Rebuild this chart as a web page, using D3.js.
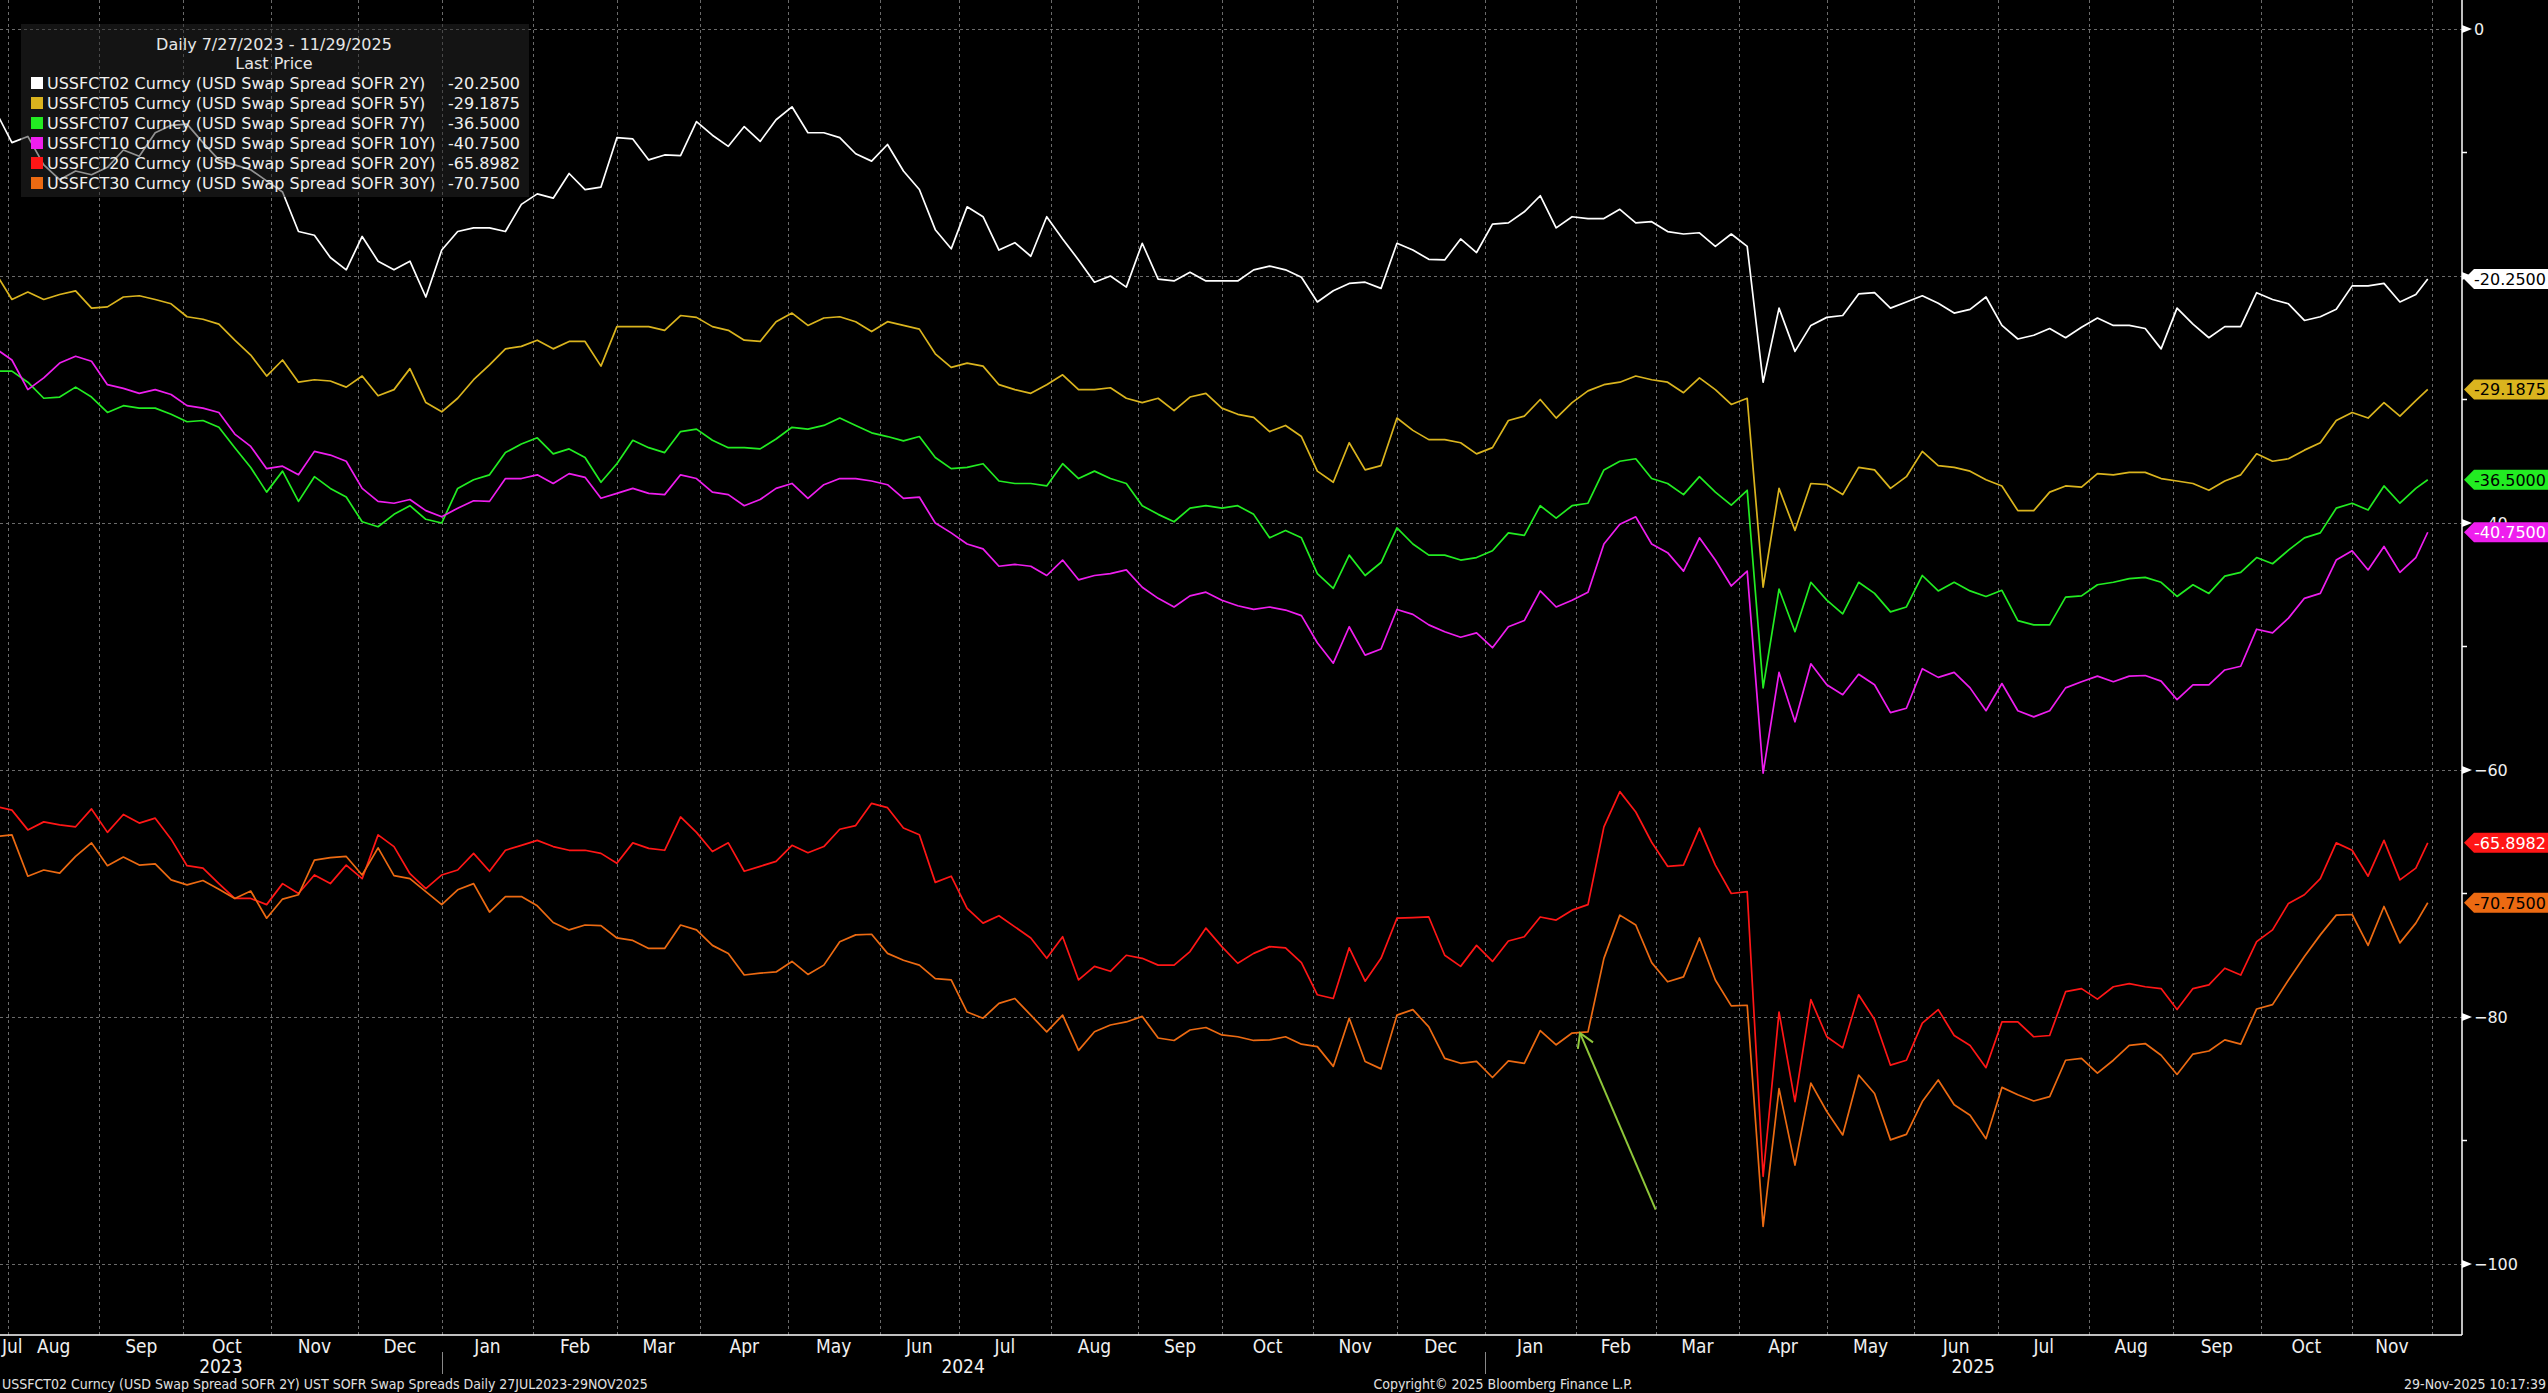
<!DOCTYPE html>
<html>
<head>
<meta charset="utf-8">
<script src="https://cdn.jsdelivr.net/npm/d3@7"></script>
<style>
html, body { margin: 0; padding: 0; background: #000; overflow: hidden; }
svg { display: block; }
</style>
</head>
<body>
<script>
// trading-day axis: 27 Jul 2023 .. 28 Nov 2025, one reading every 4th trading day + last close
const startDate = new Date(2023, 6, 27)
const endDate = new Date(2025, 10, 28)
const step = 4

const names = [
    'USSFCT02 Curncy (USD Swap Spread SOFR 2Y)',
    'USSFCT05 Curncy (USD Swap Spread SOFR 5Y)',
    'USSFCT07 Curncy (USD Swap Spread SOFR 7Y)',
    'USSFCT10 Curncy (USD Swap Spread SOFR 10Y)',
    'USSFCT20 Curncy (USD Swap Spread SOFR 20Y)',
    'USSFCT30 Curncy (USD Swap Spread SOFR 30Y)'
]
const lastPrice = [-20.25, -29.1875, -36.5, -40.75, -65.8982, -70.75]

const s02 = [-6.7,-9.2,-8.7,-11.0,-12.2,-11.5,-11.8,-11.2,-9.8,-10.3,-8.4,-7.8,-7.7,-9.2,-10.6,-11.0,-11.4,-12.3,-13.2,-16.4,
    -16.7,-18.5,-19.5,-16.8,-18.8,-19.5,-18.8,-21.7,-17.9,-16.4,-16.1,-16.1,-16.4,-14.2,-13.35,-13.7,-11.7,-13.0,-12.8,-8.8,
    -8.9,-10.6,-10.2,-10.25,-7.5,-8.6,-9.5,-7.9,-9.1,-7.35,-6.3,-8.4,-8.4,-8.8,-10.1,-10.7,-9.35,-11.5,-13.0,-16.25,
    -17.8,-14.4,-15.2,-17.9,-17.3,-18.4,-15.2,-17.0,-18.7,-20.5,-20.0,-20.9,-17.35,-20.25,-20.4,-19.7,-20.4,-20.4,-20.4,-19.5,
    -19.2,-19.5,-20.1,-22.1,-21.2,-20.6,-20.5,-21.0,-17.35,-17.9,-18.65,-18.7,-17.0,-18.1,-15.8,-15.7,-14.8,-13.5,-16.1,-15.2,
    -15.35,-15.35,-14.6,-15.7,-15.6,-16.4,-16.6,-16.5,-17.6,-16.6,-17.6,-28.6,-22.6,-26.1,-24.0,-23.35,-23.2,-21.45,-21.35,-22.6,
    -22.1,-21.6,-22.2,-23.0,-22.7,-21.7,-24.0,-25.1,-24.8,-24.25,-25.0,-24.15,-23.4,-24.0,-24.0,-24.25,-25.9,-22.6,-23.9,-25.0,
    -24.1,-24.1,-21.35,-21.9,-22.25,-23.6,-23.3,-22.7,-20.8,-20.8,-20.6,-22.1,-21.5,-20.25]

const s05 = [-19.8,-21.9,-21.3,-21.9,-21.5,-21.2,-22.6,-22.5,-21.7,-21.6,-21.9,-22.25,-23.3,-23.5,-23.9,-25.2,-26.4,-28.1,-26.8,-28.6,
    -28.4,-28.5,-29.0,-28.1,-29.7,-29.2,-27.5,-30.25,-31.0,-29.9,-28.4,-27.2,-25.9,-25.7,-25.2,-25.9,-25.3,-25.3,-27.3,-24.1,
    -24.1,-24.1,-24.4,-23.2,-23.35,-24.1,-24.4,-25.2,-25.3,-23.7,-23.0,-24.0,-23.4,-23.3,-23.7,-24.5,-23.7,-24.0,-24.3,-26.3,
    -27.4,-27.05,-27.3,-28.8,-29.2,-29.5,-28.8,-28.0,-29.2,-29.2,-29.05,-29.9,-30.25,-29.9,-30.9,-29.8,-29.5,-30.7,-31.2,-31.45,
    -32.6,-32.1,-33.0,-35.8,-36.7,-33.5,-35.7,-35.35,-31.5,-32.5,-33.25,-33.25,-33.5,-34.4,-33.9,-31.7,-31.35,-30.0,-31.5,-30.25,
    -29.3,-28.8,-28.6,-28.1,-28.4,-28.6,-29.45,-28.25,-29.2,-30.4,-29.9,-45.2,-37.2,-40.6,-36.8,-36.9,-37.7,-35.5,-35.7,-37.2,
    -36.25,-34.2,-35.35,-35.5,-35.8,-36.5,-37.0,-39.0,-39.0,-37.5,-37.0,-37.1,-36.0,-36.1,-35.9,-35.9,-36.4,-36.6,-36.8,-37.35,
    -36.6,-36.1,-34.4,-35.0,-34.8,-34.1,-33.5,-31.7,-31.05,-31.5,-30.25,-31.35,-30.1,-29.1875]

const s07 = [-27.7,-27.7,-28.6,-29.9,-29.8,-29.0,-29.8,-31.05,-30.5,-30.7,-30.7,-31.2,-31.8,-31.7,-32.25,-33.9,-35.5,-37.5,-35.8,-38.25,
    -36.25,-37.2,-37.9,-39.9,-40.3,-39.3,-38.6,-39.7,-40.0,-37.2,-36.5,-36.1,-34.3,-33.6,-33.1,-34.4,-34.0,-34.7,-36.7,-35.2,
    -33.3,-33.9,-34.3,-32.6,-32.4,-33.3,-33.9,-33.9,-34.0,-33.2,-32.25,-32.4,-32.1,-31.5,-32.1,-32.7,-33.0,-33.35,-33.0,-34.7,
    -35.6,-35.5,-35.2,-36.6,-36.8,-36.8,-37.0,-35.2,-36.4,-35.8,-36.4,-36.8,-38.6,-39.3,-39.9,-38.8,-38.6,-38.8,-38.6,-39.3,
    -41.2,-40.6,-41.2,-44.1,-45.3,-42.6,-44.25,-43.2,-40.4,-41.7,-42.6,-42.6,-43.0,-42.8,-42.25,-40.8,-41.0,-38.6,-39.6,-38.6,
    -38.4,-35.7,-35.0,-34.8,-36.4,-36.8,-37.7,-36.25,-37.5,-38.55,-37.35,-53.35,-45.35,-48.8,-44.8,-46.25,-47.35,-44.8,-45.7,-47.2,
    -46.8,-44.25,-45.5,-44.8,-45.5,-45.95,-45.45,-47.9,-48.25,-48.25,-46.0,-45.9,-45.0,-44.8,-44.5,-44.4,-44.8,-45.95,-45.0,-45.7,
    -44.3,-44.0,-42.8,-43.3,-42.2,-41.2,-40.8,-38.8,-38.4,-38.95,-37.0,-38.4,-37.2,-36.5]

const s10 = [-25.9,-26.8,-29.2,-28.25,-27.05,-26.5,-26.9,-28.8,-29.1,-29.5,-29.2,-29.6,-30.5,-30.7,-31.05,-32.8,-33.8,-35.6,-35.4,-36.1,
    -34.2,-34.5,-35.0,-37.2,-38.25,-38.4,-38.1,-39.0,-39.5,-38.8,-38.2,-38.25,-36.4,-36.4,-36.1,-36.8,-36.0,-36.3,-38.0,-37.6,
    -37.2,-37.6,-37.7,-36.1,-36.4,-37.5,-37.7,-38.6,-38.1,-37.2,-36.8,-38.0,-36.9,-36.4,-36.4,-36.6,-36.9,-38.0,-37.9,-40.0,
    -40.8,-41.7,-42.1,-43.5,-43.35,-43.5,-44.25,-43.0,-44.6,-44.25,-44.1,-43.8,-45.2,-46.1,-46.8,-45.9,-45.6,-46.25,-46.7,-47.0,
    -46.8,-47.05,-47.5,-49.7,-51.35,-48.4,-50.7,-50.2,-47.0,-47.4,-48.25,-48.8,-49.25,-48.9,-50.1,-48.4,-47.9,-45.5,-46.8,-46.25,
    -45.6,-41.7,-40.1,-39.5,-41.7,-42.4,-43.9,-41.2,-43.0,-45.1,-43.9,-60.25,-52.1,-56.1,-51.4,-53.1,-53.9,-52.25,-53.1,-55.35,
    -55.0,-51.8,-52.5,-52.1,-53.35,-55.2,-53.0,-55.2,-55.7,-55.2,-53.35,-52.85,-52.4,-52.85,-52.4,-52.35,-52.8,-54.3,-53.1,-53.1,
    -51.9,-51.6,-48.6,-48.9,-47.7,-46.1,-45.7,-43.0,-42.25,-43.8,-41.9,-44.0,-42.8,-40.75]

const s20 = [-62.95,-63.25,-64.85,-64.2,-64.45,-64.6,-63.15,-65.05,-63.6,-64.3,-63.9,-65.6,-67.75,-67.95,-69.2,-70.4,-70.4,-70.9,-69.2,-70.0,
    -68.5,-69.2,-67.7,-68.8,-65.25,-66.2,-68.4,-69.6,-68.5,-68.1,-66.75,-68.2,-66.5,-66.1,-65.7,-66.2,-66.5,-66.5,-66.75,-67.55,
    -65.9,-66.35,-66.5,-63.8,-65.05,-66.6,-65.9,-68.2,-67.8,-67.4,-66.1,-66.7,-66.2,-64.8,-64.5,-62.7,-63.05,-64.7,-65.25,-69.1,
    -68.6,-71.2,-72.4,-71.8,-72.7,-73.6,-75.25,-73.5,-77.0,-75.9,-76.3,-75.0,-75.25,-75.8,-75.8,-74.7,-72.8,-74.3,-75.65,-74.85,
    -74.3,-74.4,-75.6,-78.2,-78.5,-74.4,-77.1,-75.25,-72.0,-71.95,-71.9,-75.0,-75.9,-74.2,-75.5,-73.85,-73.5,-71.9,-72.15,-71.35,
    -70.9,-64.6,-61.75,-63.4,-65.85,-67.8,-67.7,-64.7,-67.7,-70.0,-69.85,-92.9,-79.6,-86.85,-78.6,-81.6,-82.5,-78.2,-80.2,-83.9,
    -83.5,-80.5,-79.4,-81.5,-82.3,-84.1,-80.4,-80.4,-81.6,-81.5,-77.95,-77.7,-78.55,-77.55,-77.3,-77.55,-77.7,-79.4,-77.7,-77.4,
    -76.05,-76.6,-73.9,-72.95,-70.8,-70.1,-68.8,-65.9,-66.5,-68.6,-65.7,-68.9,-67.95,-65.8982]

const s30 = [-65.4,-65.25,-68.6,-68.1,-68.35,-67.0,-65.9,-67.75,-67.05,-67.7,-67.6,-68.9,-69.3,-68.95,-69.65,-70.4,-69.8,-72.0,-70.45,-70.1,
    -67.3,-67.1,-67.0,-68.5,-66.3,-68.55,-68.8,-69.85,-70.9,-69.7,-69.2,-71.5,-70.25,-70.25,-71.0,-72.35,-72.95,-72.55,-72.6,-73.6,
    -73.8,-74.45,-74.45,-72.55,-72.95,-74.2,-74.85,-76.6,-76.45,-76.35,-75.5,-76.55,-75.8,-73.9,-73.35,-73.3,-74.85,-75.4,-75.8,-76.9,
    -77.0,-79.6,-80.1,-78.9,-78.5,-79.85,-81.2,-79.85,-82.7,-81.2,-80.65,-80.4,-79.95,-81.7,-81.9,-81.05,-80.85,-81.45,-81.6,-81.9,
    -81.85,-81.6,-82.2,-82.4,-84.0,-80.1,-83.6,-84.2,-79.85,-79.4,-80.8,-83.35,-83.75,-83.6,-84.9,-83.55,-83.75,-81.1,-82.25,-81.3,
    -81.2,-75.25,-71.75,-72.55,-75.6,-77.15,-76.75,-73.6,-77.0,-79.1,-79.05,-96.95,-85.8,-92.0,-85.35,-87.65,-89.55,-84.7,-86.2,-89.95,
    -89.5,-86.85,-85.1,-87.1,-87.95,-89.85,-85.7,-86.3,-86.8,-86.45,-83.5,-83.35,-84.55,-83.5,-82.3,-82.15,-83.1,-84.65,-83.0,-82.75,
    -81.85,-82.2,-79.35,-79.0,-77.0,-75.1,-73.35,-71.75,-71.7,-74.2,-71.05,-74.0,-72.4,-70.75]

const yTicks = [0, -20, -40, -60, -80, -100]
const yMinor = [-10, -30, -50, -70, -90]

// hand-drawn arrow on the chart: [trading-day index, value] tail -> head
const arrowTail = [417, -95.6]
const arrowHead = [398, -81.3]

const colors = ['#ffffff', '#dab41e', '#22ec22', '#ee1eee', '#ff1616', '#ec6a12']
const tagText = ['#000', '#000', '#000', '#fff', '#fff', '#000']

// canvas
const w = 2548
const h = 1393
const plotR = 2462
const plotB = 1335

const svg = d3.select('body').append('svg')
    .attr('width', w)
    .attr('height', h)
    .style('background', '#000')

// trading days and sample positions
const bizDays = d3.timeDay.range(startDate, d3.timeDay.offset(endDate, 1))
    .filter(d => d.getDay() % 6 !== 0)
const sampleIdx = d3.range(0, bizDays.length, step)
if (sampleIdx[sampleIdx.length - 1] !== bizDays.length - 1) sampleIdx.push(bizDays.length - 1)
const bizIndex = date => d3.bisectLeft(bizDays, date)

const xScale = d3.scaleLinear().domain([0, 619.6]).range([-4, plotR])
const yScale = d3.scaleLinear().domain([0, -100]).range([29, 1264])

svg.append('clipPath').attr('id', 'plot')
    .append('rect').attr('x', 0).attr('y', 0).attr('width', plotR).attr('height', plotB)

// grid
const months = d3.timeMonth.range(new Date(2023, 7, 1), new Date(2025, 11, 2))
const monthX = months.map(m => xScale(bizIndex(m)))

const grid = svg.append('g')
    .attr('stroke', '#6a6a6a')
    .attr('stroke-width', 1)
    .attr('stroke-dasharray', '3,3')

grid.selectAll('line.h')
    .data(yTicks)
    .enter()
    .append('line')
    .attr('x1', 0)
    .attr('x2', plotR)
    .attr('y1', d => yScale(d) + 0.5)
    .attr('y2', d => yScale(d) + 0.5)

grid.selectAll('line.v')
    .data(monthX.filter(x => x < plotR))
    .enter()
    .append('line')
    .attr('x1', d => Math.round(d) + 0.5)
    .attr('x2', d => Math.round(d) + 0.5)
    .attr('y1', 0)
    .attr('y2', plotB)

// series
const allSeries = [s02, s05, s07, s10, s20, s30]
const line = d3.line()
    .x((d, j) => xScale(sampleIdx[j]))
    .y(d => yScale(d))

svg.append('g')
    .attr('clip-path', 'url(#plot)')
    .selectAll('path')
    .data(allSeries)
    .enter()
    .append('path')
    .attr('d', d => line(d))
    .attr('fill', 'none')
    .attr('stroke', (d, i) => colors[i])
    .attr('stroke-width', 1.7)
    .attr('stroke-linejoin', 'round')

// arrow annotation
const ax1 = xScale(arrowTail[0]), ay1 = yScale(arrowTail[1])
const ax2 = xScale(arrowHead[0]), ay2 = yScale(arrowHead[1])
const ang = Math.atan2(ay2 - ay1, ax2 - ax1)
const arrow = svg.append('g').attr('stroke', '#8fc63a').attr('stroke-width', 2).attr('fill', 'none')
arrow.append('line').attr('x1', ax1).attr('y1', ay1).attr('x2', ax2).attr('y2', ay2)
arrow.append('path')
    .attr('d', `M${ax2 + 16 * Math.cos(ang + 2.6)},${ay2 + 16 * Math.sin(ang + 2.6)} L${ax2},${ay2} L${ax2 + 16 * Math.cos(ang - 2.6)},${ay2 + 16 * Math.sin(ang - 2.6)}`)

// legend
const legend = svg.append('g')
legend.append('rect')
    .attr('x', 21).attr('y', 24)
    .attr('width', 508).attr('height', 173)
    .attr('fill', 'rgba(40,40,40,0.5)')

legend.append('text')
    .attr('x', 274).attr('y', 50)
    .attr('text-anchor', 'middle')
    .attr('fill', '#e6e6e6')
    .attr('font-family', 'DejaVu Sans')
    .attr('font-size', 16)
    .text('Daily 7/27/2023 - 11/29/2025')

legend.append('text')
    .attr('x', 274).attr('y', 69)
    .attr('text-anchor', 'middle')
    .attr('fill', '#e6e6e6')
    .attr('font-family', 'DejaVu Sans')
    .attr('font-size', 16)
    .text('Last Price')

const rows = legend.selectAll('g.row')
    .data(names)
    .enter()
    .append('g')
    .attr('transform', (d, i) => `translate(0,${83 + i * 20})`)

rows.append('rect')
    .attr('x', 31).attr('y', -6)
    .attr('width', 12).attr('height', 12)
    .attr('fill', (d, i) => colors[i])

rows.append('text')
    .attr('x', 47).attr('y', 6)
    .attr('fill', '#f0f0f0')
    .attr('font-family', 'DejaVu Sans')
    .attr('font-size', 16)
    .text(d => d)

rows.append('text')
    .attr('x', 520).attr('y', 6)
    .attr('text-anchor', 'end')
    .attr('fill', '#f0f0f0')
    .attr('font-family', 'DejaVu Sans')
    .attr('font-size', 16)
    .text((d, i) => lastPrice[i].toFixed(4))

// frame
svg.append('line')
    .attr('x1', plotR).attr('x2', plotR)
    .attr('y1', 0).attr('y2', plotB)
    .attr('stroke', '#fff').attr('stroke-width', 1.5)
svg.append('line')
    .attr('x1', 0).attr('x2', plotR)
    .attr('y1', plotB).attr('y2', plotB)
    .attr('stroke', '#fff').attr('stroke-width', 1.5)

// right axis
const yAxis = svg.append('g')
yAxis.selectAll('path.mk')
    .data(yTicks)
    .enter()
    .append('path')
    .attr('d', d => `M${plotR},${yScale(d) - 4} L${plotR + 10},${yScale(d)} L${plotR},${yScale(d) + 4}Z`)
    .attr('fill', '#fff')

yAxis.selectAll('line.minor')
    .data(yMinor)
    .enter()
    .append('line')
    .attr('x1', plotR).attr('x2', plotR + 5)
    .attr('y1', d => yScale(d)).attr('y2', d => yScale(d))
    .attr('stroke', '#fff').attr('stroke-width', 1.5)

// a tick label sitting right under a last-value tag is hidden by it, as on the terminal
const hidden = t => lastPrice.some(p => Math.abs(yScale(p) - yScale(t)) < 5)
yAxis.selectAll('text')
    .data(yTicks.filter(t => !hidden(t)))
    .enter()
    .append('text')
    .attr('x', plotR + 12)
    .attr('y', d => yScale(d) + 6)
    .attr('fill', '#f0f0f0')
    .attr('font-family', 'DejaVu Sans')
    .attr('font-size', 16)
    .text(d => d3.format('d')(d))

// last value tags
const tags = svg.append('g')
    .selectAll('g')
    .data(lastPrice)
    .enter()
    .append('g')
    .attr('transform', d => `translate(0,${yScale(d)})`)

tags.append('path')
    .attr('d', `M${plotR + 2},0 L${plotR + 12},-10 L${w},-10 L${w},10 L${plotR + 12},10Z`)
    .attr('fill', (d, i) => colors[i])

tags.append('text')
    .attr('x', plotR + 12)
    .attr('y', 6)
    .attr('fill', (d, i) => tagText[i])
    .attr('font-family', 'DejaVu Sans')
    .attr('font-size', 16)
    .text(d => d.toFixed(4))

// bottom axis: month labels centred in each month
const xAxis = svg.append('g')
    .attr('fill', '#f0f0f0')
    .attr('font-family', 'Liberation Sans Narrow, DejaVu Sans Condensed')
    .attr('font-size', 19)

xAxis.append('text')
    .attr('x', 2).attr('y', 1353)
    .text(d3.timeFormat('%b')(startDate))

const monthSpans = months.slice(0, -1).map((m, i) => ({ m: m, c: (monthX[i] + monthX[i + 1]) / 2 }))
xAxis.selectAll('text.m')
    .data(monthSpans)
    .enter()
    .append('text')
    .attr('x', d => d.c)
    .attr('y', 1353)
    .attr('text-anchor', 'middle')
    .text(d => d3.timeFormat('%b')(d.m))

const jan = [new Date(2024, 0, 1), new Date(2025, 0, 1)].map(d => xScale(bizIndex(d)))
const yearEdges = [0, jan[0], jan[1], plotR]
const years = ['2023', '2024', '2025']
xAxis.selectAll('text.y')
    .data(years)
    .enter()
    .append('text')
    .attr('x', (d, i) => (yearEdges[i] + yearEdges[i + 1]) / 2)
    .attr('y', 1373)
    .attr('text-anchor', 'middle')
    .text(d => d)

svg.selectAll('line.sep')
    .data(jan)
    .enter()
    .append('line')
    .attr('x1', d => Math.round(d) + 0.5).attr('x2', d => Math.round(d) + 0.5)
    .attr('y1', 1352).attr('y2', 1374)
    .attr('stroke', '#888').attr('stroke-width', 1)

// footer
const foot = svg.append('g')
    .attr('fill', '#e0e0e0')
    .attr('font-family', 'Liberation Sans Narrow, DejaVu Sans Condensed')
    .attr('font-size', 14)
foot.append('text').attr('x', 2).attr('y', 1389)
    .text('USSFCT02 Curncy (USD Swap Spread SOFR 2Y) UST SOFR Swap Spreads Daily 27JUL2023-29NOV2025')
foot.append('text').attr('x', 1503).attr('y', 1389).attr('text-anchor', 'middle')
    .text('Copyright\u00a9 2025 Bloomberg Finance L.P.')
foot.append('text').attr('x', 2546).attr('y', 1389).attr('text-anchor', 'end')
    .text('29-Nov-2025 10:17:39')
</script>
</body>
</html>
